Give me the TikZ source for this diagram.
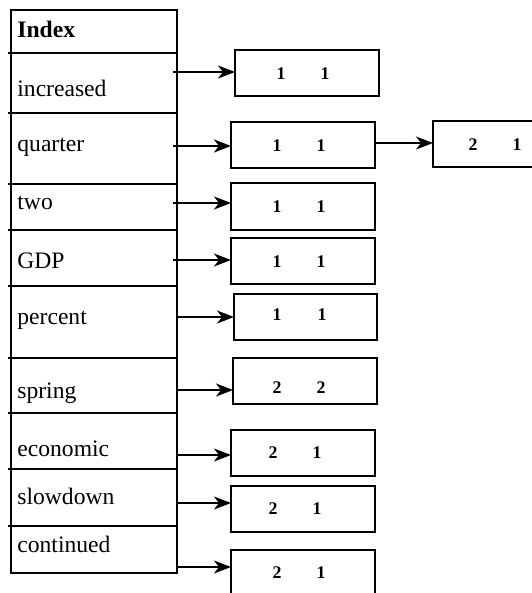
\documentclass[tikz,border=0pt]{standalone}
\usepackage{fontspec}
\setmainfont{Liberation Serif}
\usetikzlibrary{arrows.meta}
\begin{document}
\begin{tikzpicture}[x=0.5pt,y=-0.5pt,
  cell/.style={draw,line width=1pt,minimum width=83pt,inner sep=0pt,outer sep=0pt},
  word/.style={anchor=base west,inner sep=0pt,font=\fontsize{11.8}{14}\selectfont},
  box/.style={draw,line width=1pt,minimum width=72pt,minimum height=23pt,inner sep=0pt,outer sep=0pt},
  num/.style={anchor=base,inner sep=0pt,font=\fontsize{8.9}{10}\selectfont\bfseries},
  arr/.style={line width=1pt,-{Stealth[length=8.5pt,width=6.5pt,inset=2.5pt]}},
  tick/.style={line width=1pt}]
\useasboundingbox (0,0) rectangle (531,593);
% index column cells
\node[cell,minimum height=21.5pt] (c0) at (94,31.5) {};
\node[cell,minimum height=30pt] (c1) at (94,83) {};
\node[cell,minimum height=35.5pt] (c2) at (94,148.5) {};
\node[cell,minimum height=23pt] (c3) at (94,207) {};
\node[cell,minimum height=28pt] (c4) at (94,258) {};
\node[cell,minimum height=36pt] (c5) at (94,322) {};
\node[cell,minimum height=27.5pt] (c6) at (94,385.5) {};
\node[cell,minimum height=28pt] (c7) at (94,441) {};
\node[cell,minimum height=28.5pt] (c8) at (94,497.5) {};
\node[cell,minimum height=23.5pt] (c9) at (94,549.5) {};
\foreach \c in {c1,c2,c3,c4,c5,c6,c7,c8,c9}
  \draw[tick] (\c.north west) -- ++(-3,0);
% words
\node[word,font=\fontsize{11.8}{14}\selectfont\bfseries] (w0) at (17,38) {Index};
\node[word] (w1) at (17,97) {increased};
\node[word] (w2) at (17,152) {quarter};
\node[word] (w3) at (17,209) {two};
\node[word] (w4) at (17,268) {GDP};
\node[word] (w5) at (17,324) {percent};
\node[word] (w6) at (17,398) {spring};
\node[word] (w7) at (17,456) {economic};
\node[word] (w8) at (17,504) {slowdown};
\node[word] (w9) at (17,552) {continued};
% posting boxes
\node[box] (b1) at (307,73) {};
\node[box] (b2) at (303,145) {};
\node[box] (b3) at (505,144.5) {};
\node[box] (b4) at (303,206.5) {};
\node[box] (b5) at (303,260.5) {};
\node[box,minimum width=71.5pt] (b6) at (305.5,317) {};
\node[box] (b7) at (305,381) {};
\node[box] (b8) at (303,453) {};
\node[box] (b9) at (303,509) {};
\node[box] (b10) at (303,573) {};
% numbers
\node[num] (n1a) at (281,80) {1}; \node[num] (n1b) at (325,80) {1};
\node[num] (n2a) at (277,152) {1}; \node[num] (n2b) at (321,152) {1};
\node[num] (n3a) at (473,151) {2}; \node[num] (n3b) at (517,151) {1};
\node[num] (n4a) at (277,213) {1}; \node[num] (n4b) at (321,213) {1};
\node[num] (n5a) at (277,267) {1}; \node[num] (n5b) at (321,267) {1};
\node[num] (n6a) at (277,320) {1}; \node[num] (n6b) at (322,320) {1};
\node[num] (n7a) at (277,393) {2}; \node[num] (n7b) at (321,393) {2};
\node[num] (n8a) at (273,458) {2}; \node[num] (n8b) at (317,458) {1};
\node[num] (n9a) at (273,514) {2}; \node[num] (n9b) at (317,514) {1};
\node[num] (n10a) at (277,578) {2}; \node[num] (n10b) at (321,578) {1};
% arrow heights
\coordinate (y1) at (0,72);
\coordinate (y2) at (0,146);
\coordinate (y3) at (0,203);
\coordinate (y4) at (0,260);
\coordinate (y5) at (0,317);
\coordinate (y6) at (0,390);
\coordinate (y7) at (0,455);
\coordinate (y8) at (0,503);
\coordinate (y9) at (0,567);
\coordinate (y10) at (0,143);
% arrows
\draw[arr] ([xshift=-2pt]c1.east |- y1) -- (b1.west |- y1);
\draw[arr] ([xshift=-2pt]c2.east |- y2) -- (b2.west |- y2);
\draw[arr] ([xshift=-2pt]c3.east |- y3) -- (b4.west |- y3);
\draw[arr] ([xshift=-2pt]c4.east |- y4) -- (b5.west |- y4);
\draw[arr] (c5.east |- y5) -- (b6.west |- y5);
\draw[arr] (c6.east |- y6) -- (b7.west |- y6);
\draw[arr] (c7.east |- y7) -- (b8.west |- y7);
\draw[arr] (c8.east |- y8) -- (b9.west |- y8);
\draw[arr] (c9.east |- y9) -- (b10.west |- y9);
\draw[arr] (b2.east |- y10) -- (b3.west |- y10);
\end{tikzpicture}
\end{document}
